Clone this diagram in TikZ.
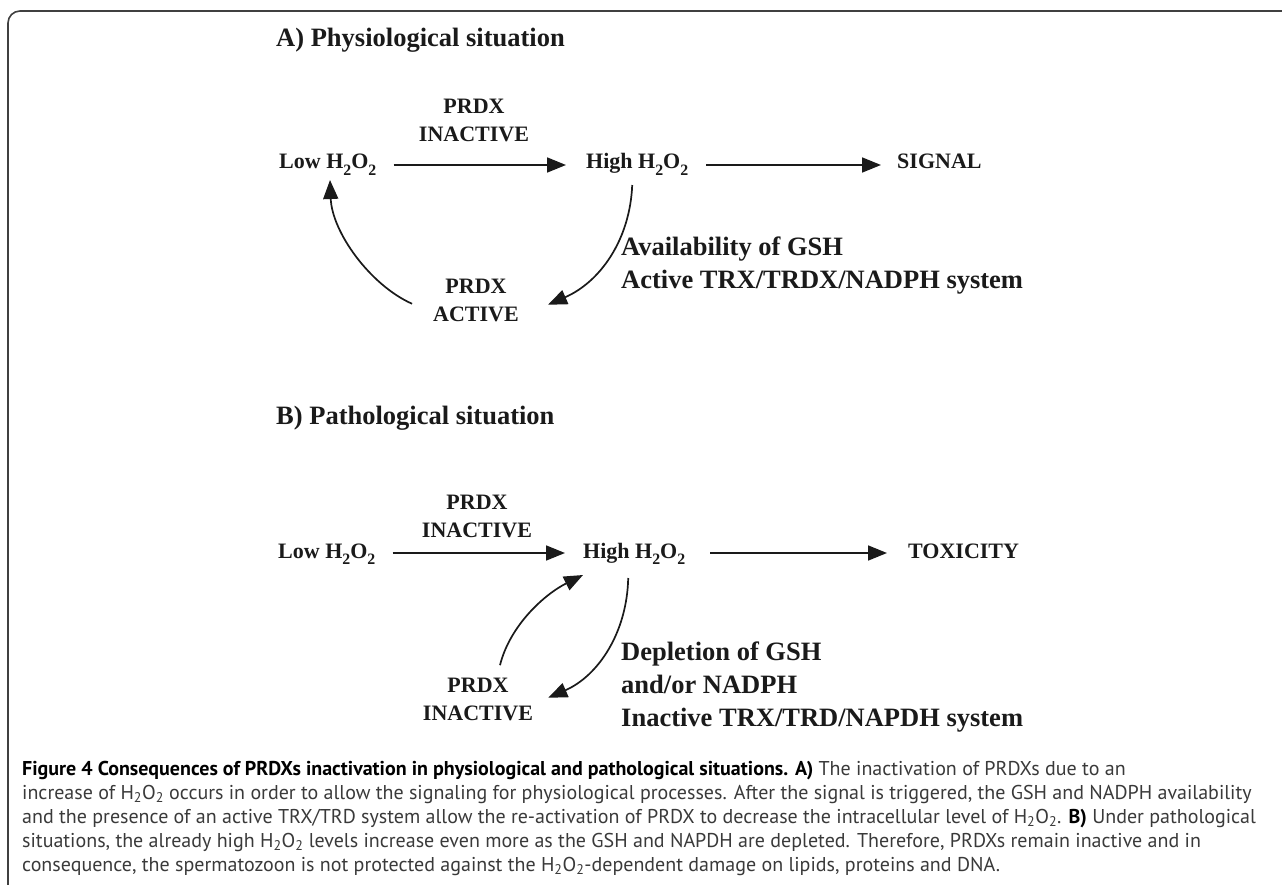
\documentclass[tikz,border=0pt]{standalone}
\usepackage{fontspec}
\setmainfont{Liberation Serif}
\newfontfamily\capfont{PT Sans}
\usepackage{graphicx}
\usetikzlibrary{arrows.meta}
\definecolor{ink}{HTML}{1A1A1A}
\definecolor{capgray}{HTML}{3A3A3A}
\newcommand\dn[1]{\raisebox{-0.28em}{\scalebox{0.72}{#1}}}
\begin{document}
\begin{tikzpicture}[x=1pt,y=-1pt,
  lbl/.style={font=\fontsize{22}{28}\selectfont\bfseries, inner sep=0pt, align=center, text=ink},
  big/.style={font=\fontsize{26.5}{33}\selectfont\bfseries, inner sep=0pt, align=left, text=ink},
  captxt/.style={font=\capfont\fontsize{20}{24}\selectfont, inner sep=0pt, text=capgray, anchor=base west},
  arr/.style={line width=1.7pt, draw=ink, -{Triangle[length=19pt,width=15pt]}},
  frame/.style={line width=1.6pt, draw=black!75, rounded corners=12pt}]
\useasboundingbox (0,0) rectangle (1282,885);
\fill[white] (0,0) rectangle (1282,885);
\draw[frame] (8,11) rectangle (1310,910);

% ---------- A ----------
\node[big, anchor=base west] (titA) at (276,47) {A) Physiological situation};
\node[lbl] (inA) at (474,120.75) {PRDX\\INACTIVE};
\node[lbl, anchor=base west] (lowA) at (279,169) {Low H\dn{2}O\dn{2}};
\node[lbl, anchor=base west] (highA) at (586,169) {High H\dn{2}O\dn{2}};
\node[lbl, anchor=base west] (sigA) at (897,169) {SIGNAL};
\node[lbl] (actA) at (476,300.75) {PRDX\\ACTIVE};
\node[big, anchor=north west] (gshA) at (621,237) {Availability of GSH\\Active TRX/TRDX/NADPH system};

\draw[arr] ([shift={(17,-4)}]lowA.base east) -- ([shift={(-20,-4)}]highA.base west);
\draw[arr] ([shift={(18,-4)}]highA.base east) -- ([shift={(-16,-4)}]sigA.base west);
\draw[arr] ([shift={(-5,16)}]highA.base) .. controls (630,240) and (600,282) .. ([shift={(29,4)}]actA.east);
\draw[arr] ([shift={(-21,3)}]actA.west) .. controls (370,285) and (332,232) .. ([shift={(51,11)}]lowA.base west);

% ---------- B ----------
\node[big, anchor=base west] (titB) at (276,424) {B) Pathological situation};
\node[lbl] (inB) at (477,516.75) {PRDX\\INACTIVE};
\node[lbl, anchor=base west] (lowB) at (278,558) {Low H\dn{2}O\dn{2}};
\node[lbl, anchor=base west] (highB) at (583,558) {High H\dn{2}O\dn{2}};
\node[lbl, anchor=base west] (toxB) at (908,558) {TOXICITY};
\node[lbl] (inbB) at (478,699.75) {PRDX\\INACTIVE};
\node[big, anchor=north west] (gshB) at (621,642) {Depletion of GSH\\and/or NADPH\\Inactive TRX/TRD/NAPDH system};

\draw[arr] ([shift={(17,-5)}]lowB.base east) -- ([shift={(-18,-5)}]highB.base west);
\draw[arr] ([shift={(25,-5)}]highB.base east) -- ([shift={(-21,-5)}]toxB.base west);
\draw[arr] ([shift={(-6,20)}]highB.base) .. controls (627,633) and (598,676) .. ([shift={(15,-2)}]inbB.east);
\draw[arr] ([shift={(22,-13)}]inbB.north) .. controls (510,625) and (545,594) .. ([shift={(0,17)}]highB.base west);

% ---------- caption ----------
\node[captxt] (c1) at (22,775) {\textcolor{black}{\bfseries Figure 4 Consequences of PRDXs inactivation in physiological and pathological situations. A)} The inactivation of PRDXs due to an};
\node[captxt] (c2) at (22,799) {increase of H\textsubscript{2}O\textsubscript{2} occurs in order to allow the signaling for physiological processes. After the signal is triggered, the GSH and NADPH availability};
\node[captxt] (c3) at (22,823) {and the presence of an active TRX/TRD system allow the re-activation of PRDX to decrease the intracellular level of H\textsubscript{2}O\textsubscript{2}. \textcolor{black}{\bfseries B)} Under pathological};
\node[captxt] (c4) at (22,847) {situations, the already high H\textsubscript{2}O\textsubscript{2} levels increase even more as the GSH and NAPDH are depleted. Therefore, PRDXs remain inactive and in};
\node[captxt] (c5) at (22,871) {consequence, the spermatozoon is not protected against the H\textsubscript{2}O\textsubscript{2}-dependent damage on lipids, proteins and DNA.};
\end{tikzpicture}
\end{document}
